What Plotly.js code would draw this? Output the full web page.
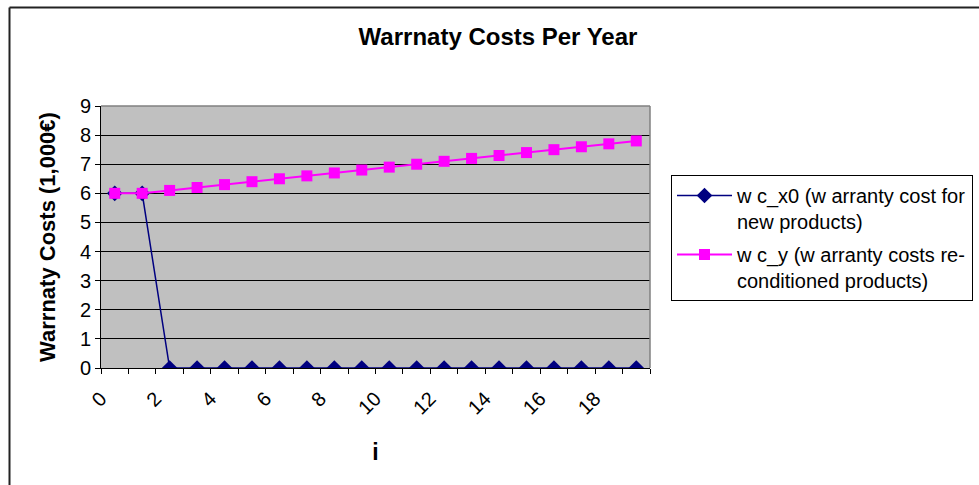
<!DOCTYPE html>
<html>
<head>
<meta charset="utf-8">
<script src="https://cdn.plot.ly/plotly-3.0.1.min.js"></script>
<style>html,body{margin:0;padding:0;background:#fff;}#chart{width:979px;height:485px;}</style>
</head>
<body>
<div id="chart"></div>
<script>
// ---- data ----
var years = [0,1,2,3,4,5,6,7,8,9,10,11,12,13,14,15,16,17,18,19];
var wcX0 = [6,6,0,0,0,0,0,0,0,0,0,0,0,0,0,0,0,0,0,0];
var wcY = [6.0,6.0,6.1,6.2,6.3,6.4,6.5,6.6,6.7,6.8,6.9,7.0,7.1,7.2,7.3,7.4,7.5,7.6,7.7,7.8];
var xTickVals = [0,2,4,6,8,10,12,14,16,18];
var xTickText = ['0','2','4','6','8','10','12','14','16','18'];
var seriesNames = ['w c_x0 (w arranty cost for<br>new products)', 'w c_y (w arranty costs re-<br>conditioned products)'];
var chartTitle = 'Warrnaty Costs Per Year';
var yTitle = 'Warrnaty Costs (1,000€)';
var xTitle = 'i';

var FONT = 'Arial, "Liberation Sans", sans-serif';

var traces = [
  {x: years, y: wcX0, name: seriesNames[0], type: 'scatter', mode: 'lines+markers',
   legendgroup: 'a',
   line: {color: '#000080', width: 1.5},
   marker: {symbol: 'diamond', size: 12, color: '#000080'}},
  {x: years, y: wcY, name: seriesNames[1], type: 'scatter', mode: 'lines+markers',
   legendgroup: 'b',
   line: {color: '#FF00FF', width: 2},
   marker: {symbol: 'square', size: 11, color: '#FF00FF'}}
];

var L = 101, R = 650, T = 106, B = 368, W = 979, H = 485;
function px(x){ return (x - L) / (R - L); }
function py(y){ return (B - y) / (B - T); }

var layout = {
  width: W, height: H,
  margin: {l: L, r: W - R, t: T, b: H - B, pad: 0, autoexpand: false},
  paper_bgcolor: '#ffffff',
  plot_bgcolor: '#C0C0C0',
  font: {family: FONT, color: '#000', size: 20},
  title: {text: '<b>' + chartTitle + '</b>', font: {family: FONT, size: 24, color: '#000'},
          x: 498 / W, xanchor: 'center', y: 1 - 37 / H, yanchor: 'middle', xref: 'container', yref: 'container'},
  xaxis: {
    range: [-0.5, 19.5], tickmode: 'array', tickvals: xTickVals, ticktext: xTickText,
    tickangle: -45, ticks: '', showgrid: false, zeroline: false,
    showline: true, linecolor: '#000', linewidth: 1,
    tickfont: {family: FONT, size: 20, color: '#000'},
    ticklabelshift: -14, ticklabelstandoff: 10,
    minor: {ticks: 'outside', tick0: -0.5, dtick: 1, ticklen: 5, tickcolor: '#000', tickwidth: 1, showgrid: false},
    title: {text: '<b>' + xTitle + '</b>', font: {family: FONT, size: 23, color: '#000'}, standoff: 26},
    automargin: false, fixedrange: true
  },
  yaxis: {
    range: [0, 9], dtick: 1, tick0: 0, showgrid: true, gridcolor: '#000', gridwidth: 1,
    zeroline: false, showline: true, linecolor: '#000', linewidth: 1,
    ticks: 'outside', ticklen: 5, tickcolor: '#000',
    tickfont: {family: FONT, size: 20, color: '#000'},
    title: {text: '<b>' + yTitle + '</b>', font: {family: FONT, size: 22, color: '#000'}, standoff: 18},
    automargin: false, fixedrange: true
  },
  showlegend: true,
  legend: {
    xref: 'container', yref: 'container',
    x: 671 / W, xanchor: 'left', y: 1 - 175 / H, yanchor: 'top',
    bgcolor: '#ffffff', bordercolor: '#000', borderwidth: 1,
    font: {family: FONT, size: 20, color: '#000'},
    itemwidth: 55, valign: 'top', tracegroupgap: 4, traceorder: 'grouped'
  },
  shapes: [
    // plot area border (top & right, gray)
    {type: 'line', xref: 'paper', yref: 'paper', x0: 0, x1: 1, y0: 1, y1: 1, line: {color: '#808080', width: 1.5}, layer: 'above'},
    {type: 'line', xref: 'paper', yref: 'paper', x0: 1, x1: 1, y0: 0, y1: 1, line: {color: '#808080', width: 1.5}, layer: 'above'},
    // chart outer border
    {type: 'line', xref: 'paper', yref: 'paper', x0: px(9.5), x1: px(9.5), y0: py(7.5), y1: py(490), line: {color: '#222', width: 2}},
    {type: 'line', xref: 'paper', yref: 'paper', x0: px(9.5), x1: px(990), y0: py(7.5), y1: py(7.5), line: {color: '#222', width: 2}}
  ]
};

Plotly.newPlot('chart', traces, layout, {displayModeBar: false, staticPlot: true});
</script>
</body>
</html>
